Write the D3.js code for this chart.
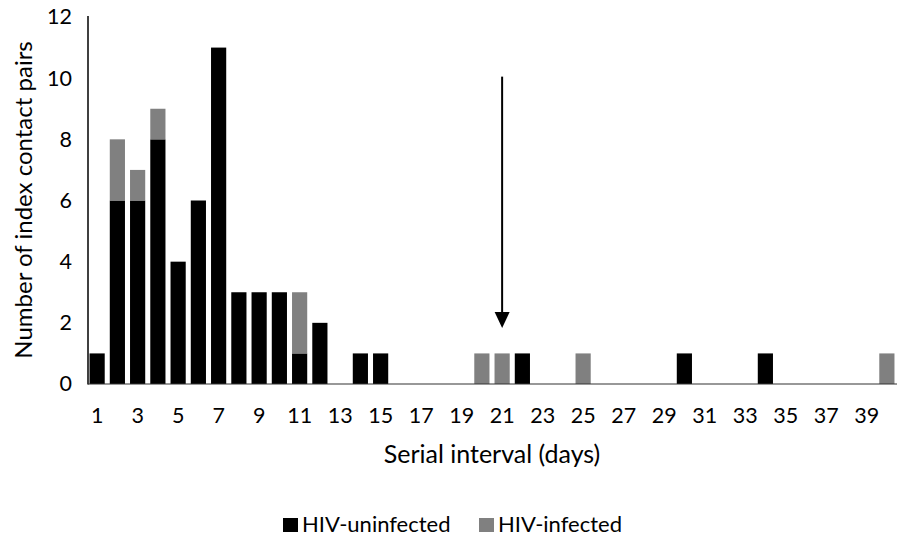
<!DOCTYPE html>
<html><head><meta charset="utf-8">
<script src="https://cdn.jsdelivr.net/npm/d3@7"></script>
<style>body{margin:0;background:#fff}svg{display:block}text{font-family:Lato,"Open Sans",sans-serif;fill:#000}</style>
</head><body><svg id="c" width="897" height="536"></svg>
<script>
const days = d3.range(1, 41);
const uninfected = [1,6,6,8,4,6,11,3,3,3,1,2,0,1,1,0,0,0,0,0,0,1,0,0,0,0,0,0,0,1,0,0,0,1,0,0,0,0,0,0];
const infected   = [0,2,1,1,0,0,0,0,0,0,2,0,0,0,0,0,0,0,0,1,1,0,0,0,1,0,0,0,0,0,0,0,0,0,0,0,0,0,0,1];
const yTicks = [0,2,4,6,8,10,12];
const xTickLabels = days.filter(d => d % 2 === 1);
const seriesNames = ["HIV-uninfected","HIV-infected"];
const colors = ["#000000","#808080"];
const arrow = {day: 21, from: 10.05, to: 1.83};

const FF = "Lato, 'Open Sans', sans-serif";
const svg = d3.select("#c");
const x = d3.scaleBand().domain(days).range([87, 897]).paddingInner(0.25).paddingOuter(0.125);
const y = d3.scaleLinear().domain([0, 12]).range([384, 17]);

const table = days.map((d,i) => ({day:d, u:uninfected[i], i:infected[i]}));
const stack = d3.stack().keys(["u","i"])(table);

svg.append("g").selectAll("g").data(stack).join("g")
  .attr("fill", (s,k) => colors[k])
  .selectAll("rect").data(s => s.filter(p => p[1] > p[0])).join("rect")
  .attr("x", p => x(p.data.day))
  .attr("width", x.bandwidth())
  .attr("y", p => y(p[1]))
  .attr("height", p => y(p[0]) - y(p[1]));

// axes
const ya = svg.append("g").attr("transform","translate(88,0)")
  .call(d3.axisLeft(y).tickValues(yTicks).tickSize(0).tickPadding(16));
ya.select(".domain").attr("stroke","#000").attr("stroke-width",1.5).attr("d","M0,16V384.5");
ya.selectAll("text").attr("font-size",21.5).style("font-family",FF);

const xa = svg.append("g").attr("transform","translate(0,384)")
  .call(d3.axisBottom(x).tickValues(xTickLabels).tickSize(0).tickPadding(0));
xa.select(".domain").attr("stroke","#333").attr("stroke-width",1.2).attr("d","M88,0H897");
xa.selectAll("text").attr("font-size",21.5).attr("dy",null).attr("y",39).style("font-family",FF);

svg.append("text").attr("x",492).attr("y",463).attr("text-anchor","middle")
  .attr("font-size",25).text("Serial interval (days)");
svg.append("text").attr("transform","translate(32,200) rotate(-90)").attr("text-anchor","middle")
  .attr("font-size",24).text("Number of index contact pairs");

// arrow
const ax = x(arrow.day) + x.bandwidth()/2;
svg.append("line").attr("x1",ax).attr("x2",ax).attr("y1",y(arrow.from)).attr("y2",y(arrow.to)-10)
  .attr("stroke","#000").attr("stroke-width",2);
svg.append("path").attr("d",`M${ax-7.5},${y(arrow.to)-16}L${ax+7.5},${y(arrow.to)-16}L${ax},${y(arrow.to)}Z`).attr("fill","#000");

// legend
const legX = [283, 479];
const lg = svg.append("g");
seriesNames.forEach((n,k) => {
  lg.append("rect").attr("x",legX[k]).attr("y",518).attr("width",15).attr("height",14).attr("fill",colors[k]);
  lg.append("text").attr("x",legX[k]+19).attr("y",532).attr("font-size",22).text(n);
});
</script></body></html>
